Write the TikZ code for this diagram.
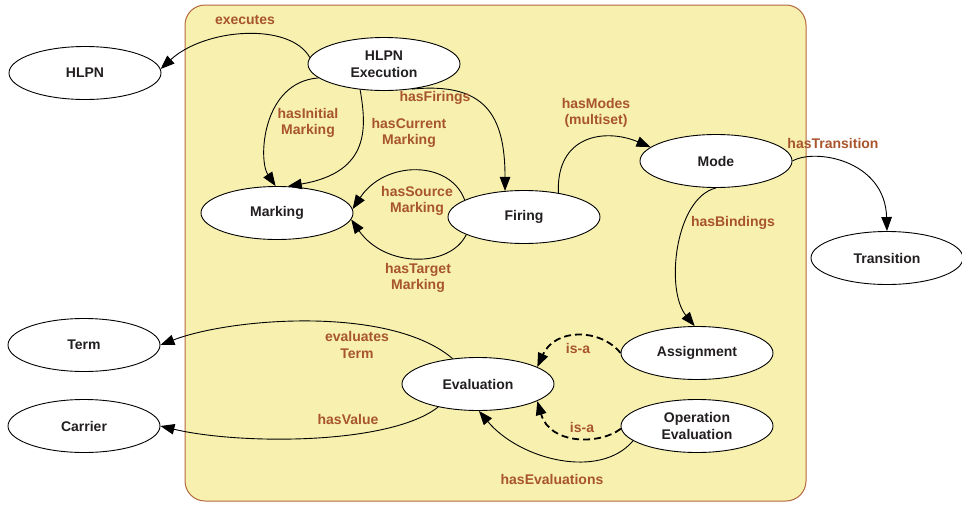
\documentclass[tikz,border=0pt]{standalone}
\usepackage{fontspec}
\setmainfont{Liberation Sans}
\usetikzlibrary{arrows.meta,shapes.geometric}
\definecolor{boxfill}{HTML}{F7F0AE}
\definecolor{boxline}{HTML}{B4683E}
\definecolor{lblcol}{HTML}{A8552C}
\definecolor{txtcol}{HTML}{231F20}
\tikzset{
  cls/.style={ellipse, draw=black, fill=white, line width=0.9pt, minimum width=152pt, minimum height=53pt, inner sep=0pt, font=\bfseries\fontsize{14}{17}\selectfont, text=txtcol, align=center},
  lbl/.style={font=\bfseries\fontsize{14}{16.5}\selectfont, text=lblcol, align=center, inner sep=0pt},
  rel/.style={draw=black, line width=0.9pt, -{Triangle[length=14pt,width=10.5pt]}},
  isa/.style={rel, line width=1.8pt, dash pattern=on 7pt off 4pt},
}
\begin{document}
\begin{tikzpicture}[x=1pt,y=-1pt]
\useasboundingbox (0,0) rectangle (962,504);
\draw[boxline, fill=boxfill, line width=1pt, rounded corners=20pt] (185,5) rectangle (806,501);

% nodes
\node[cls] (hlpn) at (85,73) {HLPN};
\node[cls] (he) at (384,64) {HLPN\\Execution};
\node[cls] (mk) at (277,213) {Marking};
\node[cls] (fi) at (524,217) {Firing};
\node[cls] (md) at (716,161) {Mode};
\node[cls] (tr) at (887,258) {Transition};
\node[cls] (tm) at (84,345) {Term};
\node[cls] (cr) at (84,426) {Carrier};
\node[cls] (ev) at (478,384) {Evaluation};
\node[cls] (as) at (697,353) {Assignment};
\node[cls] (oe) at (697,426) {Operation\\Evaluation};

% edges
\draw[rel] (he.175) .. controls (290,22) and (205,28) .. (hlpn.3);
\draw[rel] (he.192) .. controls (262,82) and (258,160) .. (mk.93);
\draw[rel] (he.227) .. controls (366,125) and (372,172) .. (mk.68);
\draw[rel] (he.318) .. controls (485,82) and (505,115) .. (fi.126);
\draw[rel] (fi.35) .. controls (556,135) and (605,128) .. (md.168);
\draw[rel] (md.0) .. controls (815,148) and (885,160) .. (tr.90);
\draw[rel] (md.270) .. controls (675,198) and (665,290) .. (as.95);
\draw[rel] (fi.164) .. controls (450,160) and (385,160) .. (mk.3);
\draw[rel] (fi.197) .. controls (450,268) and (385,268) .. (mk.-5);
\draw[rel] (ev.135) .. controls (390,305) and (230,318) .. (tm.0);
\draw[rel] (ev.210) .. controls (390,445) and (240,445) .. (cr.0);
\draw[isa] (as.180) .. controls (600,328) and (555,328) .. (ev.16);
\draw[isa] (oe.182) .. controls (600,445) and (550,445) .. (ev.-16);
\draw[rel] (oe.193) .. controls (600,480) and (520,460) .. (ev.272);

% labels
\node[lbl] (l1) at (245,20) {executes};
\node[lbl] (l2) at (308,123) {hasInitial\\Marking};
\node[lbl] (l3) at (409,133) {hasCurrent\\Marking};
\node[lbl] (l4) at (435,98) {hasFirings};
\node[lbl] (l5) at (596,113) {hasModes\\(multiset)};
\node[lbl] (l6) at (833,143) {hasTransition};
\node[lbl] (l7) at (733,223) {hasBindings};
\node[lbl] (l8) at (417,201) {hasSource\\Marking};
\node[lbl] (l9) at (418,278) {hasTarget\\Marking};
\node[lbl] (l10) at (357,345) {evaluates\\Term};
\node[lbl] (l11) at (348,419) {hasValue};
\node[lbl] (l12) at (578,348) {is-a};
\node[lbl] (l13) at (582,427) {is-a};
\node[lbl] (l14) at (552,479) {hasEvaluations};
\end{tikzpicture}
\end{document}
